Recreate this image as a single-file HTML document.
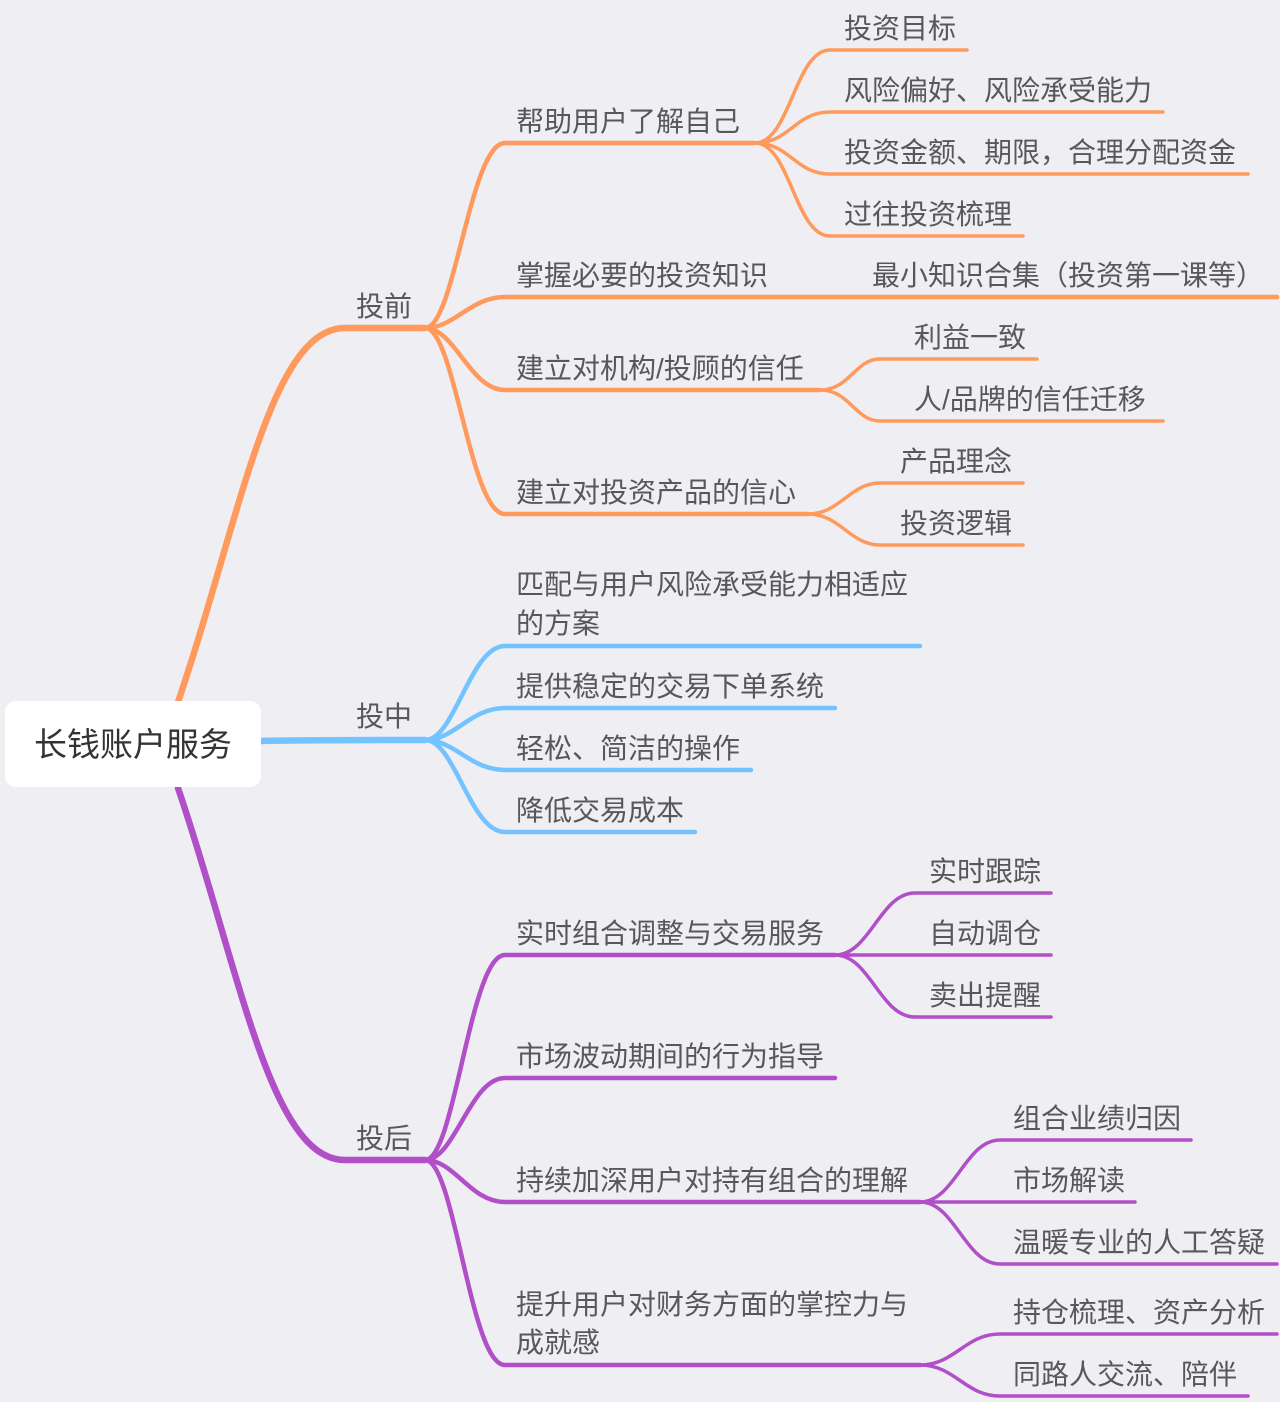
<!DOCTYPE html>
<html><head><meta charset="utf-8"><style>
body{margin:0;background:#EFEEF3;}
svg{display:block}
text{font-family:"Liberation Sans","Noto Sans CJK SC",sans-serif;font-size:28px;fill:#585858;}
</style></head><body>
<svg width="1280" height="1402" viewBox="0 0 1280 1402" fill="none" stroke-linecap="round">
<g stroke="#FF9A5C">
<path d="M178,702 C240,520 270,328 345,328 L425,328" stroke-width="6.5"/>
<g stroke-width="4.5">
<path d="M425,328 C455,328 470,143 505,143 L755,143"/>
<path d="M425,328 C455,328 470,297 505,297 L1277,297"/>
<path d="M425,328 C455,328 470,390 505,390 L820,390"/>
<path d="M425,328 C455,328 470,514 505,514 L808,514"/>
</g>
<g stroke-width="3.5">
<path d="M755,143 C790,143 795,50 830,50 L967,50"/>
<path d="M755,143 C790,143 795,112 830,112 L1163,112"/>
<path d="M755,143 C790,143 795,174 830,174 L1248,174"/>
<path d="M755,143 C790,143 795,236 830,236 L1023,236"/>
<path d="M820,390 C850,390 855,359 880,359 L1037,359"/>
<path d="M820,390 C850,390 855,421 880,421 L1163,421"/>
<path d="M808,514 C840,514 850,483 880,483 L1023,483"/>
<path d="M808,514 C840,514 850,545 880,545 L1023,545"/>
</g></g>
<g stroke="#72C3FF">
<path d="M261,741 C300,740 340,740 425,740" stroke-width="6.5"/>
<g stroke-width="4.5">
<path d="M425,740 C455,740 470,646 505,646 L920,646"/>
<path d="M425,740 C455,740 470,708 505,708 L835,708"/>
<path d="M425,740 C455,740 470,770 505,770 L751,770"/>
<path d="M425,740 C455,740 470,832 505,832 L695,832"/>
</g></g>
<g stroke="#B04FC8">
<path d="M178,788 C240,970 270,1160 345,1160 L425,1160" stroke-width="6.5"/>
<g stroke-width="4.5">
<path d="M425,1160 C455,1160 470,955 505,955 L835,955"/>
<path d="M425,1160 C455,1160 470,1078 505,1078 L835,1078"/>
<path d="M425,1160 C455,1160 470,1202 505,1202 L920,1202"/>
<path d="M425,1160 C455,1160 470,1365 505,1365 L920,1365"/>
</g>
<g stroke-width="3.5">
<path d="M835,955 C870,955 880,893 915,893 L1051,893"/>
<path d="M835,955 L1051,955"/>
<path d="M835,955 C870,955 880,1017 915,1017 L1051,1017"/>
<path d="M920,1202 C955,1202 965,1140 1000,1140 L1191,1140"/>
<path d="M920,1202 L1135,1202"/>
<path d="M920,1202 C955,1202 965,1264 1000,1264 L1277,1264"/>
<path d="M920,1365 C955,1365 965,1334 1000,1334 L1277,1334"/>
<path d="M920,1365 C955,1365 965,1396 1000,1396 L1248,1396"/>
</g></g>
<rect x="5" y="701" width="256" height="86" rx="11" fill="#fff" stroke="none"/>
<text x="133" y="756" text-anchor="middle" style="font-size:33px;fill:#333">长钱账户服务</text>
<text x="356" y="316">投前</text>
<text x="356" y="726">投中</text>
<text x="356" y="1148">投后</text>
<text x="516" y="131">帮助用户了解自己</text>
<text x="516" y="285">掌握必要的投资知识</text>
<text x="516" y="378">建立对机构/投顾的信任</text>
<text x="516" y="502">建立对投资产品的信心</text>
<text x="844" y="38">投资目标</text>
<text x="844" y="100">风险偏好、风险承受能力</text>
<text x="844" y="162">投资金额、期限，合理分配资金</text>
<text x="844" y="224">过往投资梳理</text>
<text x="872" y="285">最小知识合集（投资第一课等）</text>
<text x="914" y="347">利益一致</text>
<text x="914" y="409">人/品牌的信任迁移</text>
<text x="900" y="471">产品理念</text>
<text x="900" y="533">投资逻辑</text>
<text x="516" y="594">匹配与用户风险承受能力相适应</text>
<text x="516" y="633">的方案</text>
<text x="516" y="696">提供稳定的交易下单系统</text>
<text x="516" y="758">轻松、简洁的操作</text>
<text x="516" y="820">降低交易成本</text>
<text x="516" y="943">实时组合调整与交易服务</text>
<text x="516" y="1066">市场波动期间的行为指导</text>
<text x="516" y="1190">持续加深用户对持有组合的理解</text>
<text x="516" y="1314">提升用户对财务方面的掌控力与</text>
<text x="516" y="1352">成就感</text>
<text x="929" y="881">实时跟踪</text>
<text x="929" y="943">自动调仓</text>
<text x="929" y="1005">卖出提醒</text>
<text x="1013" y="1128">组合业绩归因</text>
<text x="1013" y="1190">市场解读</text>
<text x="1013" y="1252">温暖专业的人工答疑</text>
<text x="1013" y="1322">持仓梳理、资产分析</text>
<text x="1013" y="1384">同路人交流、陪伴</text>
</svg>
</body></html>
